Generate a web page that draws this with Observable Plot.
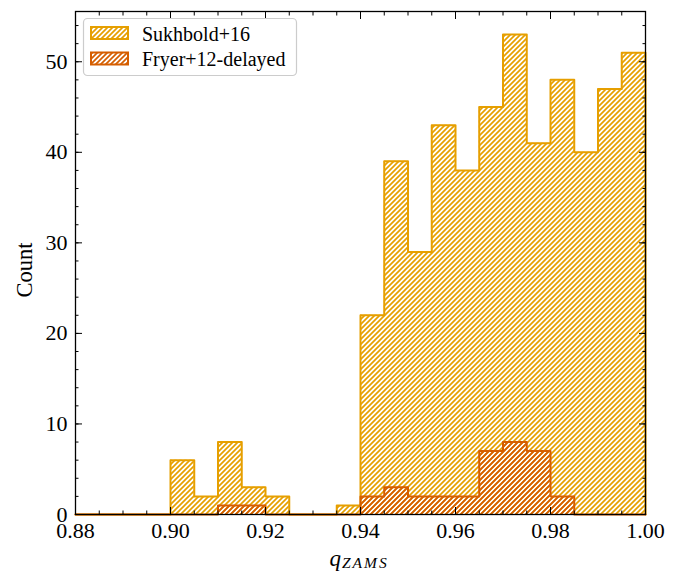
<!DOCTYPE html>
<html><head><meta charset="utf-8">
<script src="https://cdn.jsdelivr.net/npm/d3@7"></script>
<script src="https://cdn.jsdelivr.net/npm/@observablehq/plot@0.6"></script>
<style>
body{margin:0;background:#fff;}
#chart{position:relative;width:693px;height:572px;}
</style>
</head><body><div id="chart"></div>
<script>
// ---- data ----
const binEdges = [0.880,0.885,0.890,0.895,0.900,0.905,0.910,0.915,0.920,0.925,0.930,0.935,0.940,
                  0.945,0.950,0.955,0.960,0.965,0.970,0.975,0.980,0.985,0.990,0.995,1.000];
const sukhbold16 = [0,0,0,0,6,2,8,3,2,0,0,1,22,39,29,43,38,45,53,41,48,40,47,51];
const fryer12 = [0,0,0,0,0,0,1,1,0,0,0,0,2,3,2,2,2,7,8,7,2,0,0,0];
const seriesNames = ["Sukhbold+16","Fryer+12-delayed"];
const seriesColors = ["#E69F00","#D55E00"];
const xMajor = [0.88,0.90,0.92,0.94,0.96,0.98,1.00];
const yMajor = [0,10,20,30,40,50];
const yMinor = [0,2,4,6,8,10,12,14,16,18,20,22,24,26,28,30,32,34,36,38,40,42,44,46,48,50,52,54];

// outline polygon of a step histogram
function outline(counts){
  const pts = [{x: binEdges[0], y: 0}];
  counts.forEach((c,i) => { pts.push({x: binEdges[i], y: c}); pts.push({x: binEdges[i+1], y: c}); });
  pts.push({x: binEdges[binEdges.length-1], y: 0});
  return pts;
}
const sOut = outline(sukhbold16), fOut = outline(fryer12);

const W = 693, H = 572;
const fontTick = 22;
const serif = "'Liberation Serif','DejaVu Serif',serif";

const chart = Plot.plot({
  width: W, height: H,
  marginLeft: 75, marginRight: 48, marginTop: 11, marginBottom: 58,
  style: {fontFamily: serif, background: "#fff", color: "black"},
  x: {domain: [0.88, 1.00]},
  y: {domain: [0, 55.55]},
  marks: [
    Plot.areaY(sOut, {x: "x", y1: 0, y2: "y", fill: "url(#hatchS)", curve: "linear"}),
    Plot.line(sOut, {x: "x", y: "y", stroke: seriesColors[0], strokeWidth: 2, curve: "linear"}),
    Plot.areaY(fOut, {x: "x", y1: 0, y2: "y", fill: "url(#hatchF)", curve: "linear"}),
    Plot.line(fOut, {x: "x", y: "y", stroke: seriesColors[1], strokeWidth: 2, curve: "linear"}),
    // minor ticks
    Plot.axisX(binEdges, {anchor: "bottom", tickSize: -3.5, fill: "none", label: null}),
    Plot.axisX(binEdges, {anchor: "top", tickSize: -3.5, fill: "none", label: null}),
    Plot.axisY(yMinor, {anchor: "left", tickSize: -3.5, fill: "none", label: null}),
    Plot.axisY(yMinor, {anchor: "right", tickSize: -3.5, fill: "none", label: null}),
    // major ticks
    Plot.axisX(xMajor, {anchor: "bottom", tickSize: -7, tickPadding: 15, fontSize: fontTick,
      tickFormat: d => d.toFixed(2), label: null}),
    Plot.axisX(xMajor, {anchor: "top", tickSize: -7, fill: "none", label: null}),
    Plot.axisY(yMajor, {anchor: "left", tickSize: -7, tickPadding: 15, fontSize: fontTick,
      tickFormat: d => String(d), label: null}),
    Plot.axisY(yMajor, {anchor: "right", tickSize: -7, fill: "none", label: null}),
    Plot.frame({stroke: "black", strokeWidth: 1.3})
  ]
});

// hatch patterns
const svg = d3.select(chart);
const defs = svg.insert("defs", ":first-child");
function hatch(id, color){
  const p = defs.append("pattern").attr("id", id).attr("patternUnits", "userSpaceOnUse")
    .attr("width", 5).attr("height", 5);
  p.append("path").attr("d", "M-1,1 L1,-1 M0,5 L5,0 M4,6 L6,4")
    .attr("stroke", color).attr("stroke-width", 1.7).attr("fill", "none");
}
hatch("hatchS", seriesColors[0]);
hatch("hatchF", seriesColors[1]);

// axis labels
svg.append("text").attr("transform", "translate(32,270) rotate(-90)")
  .attr("text-anchor", "middle").attr("font-family", serif).attr("font-size", 22.5)
  .attr("fill", "black").text("Count");
const xl = svg.append("text").attr("x", 359).attr("y", 566).attr("text-anchor", "middle")
  .attr("font-family", serif).attr("fill", "black");
xl.append("tspan").attr("font-style", "italic").attr("font-size", 23).text("q");
xl.append("tspan").attr("font-style", "italic").attr("font-size", 15.5).attr("dy", 2)
  .attr("dx", 1).attr("letter-spacing", 2).text("ZAMS");

// legend
const lg = svg.append("g");
lg.append("rect").attr("x", 83.5).attr("y", 18.5).attr("width", 213).attr("height", 57)
  .attr("rx", 4).attr("fill", "white").attr("fill-opacity", 0.85)
  .attr("stroke", "#cccccc").attr("stroke-width", 1.2);
seriesNames.forEach((name, i) => {
  const y0 = 27 + i * 25.5;
  lg.append("rect").attr("x", 91).attr("y", y0).attr("width", 37).attr("height", 12)
    .attr("fill", i === 0 ? "url(#hatchS)" : "url(#hatchF)")
    .attr("stroke", seriesColors[i]).attr("stroke-width", 2);
  lg.append("text").attr("x", 142).attr("y", y0 + 13.5).attr("text-anchor", "start")
    .attr("font-family", serif).attr("font-size", 20).attr("fill", "black").text(name);
});

document.getElementById("chart").appendChild(chart);
</script>
</body></html>
